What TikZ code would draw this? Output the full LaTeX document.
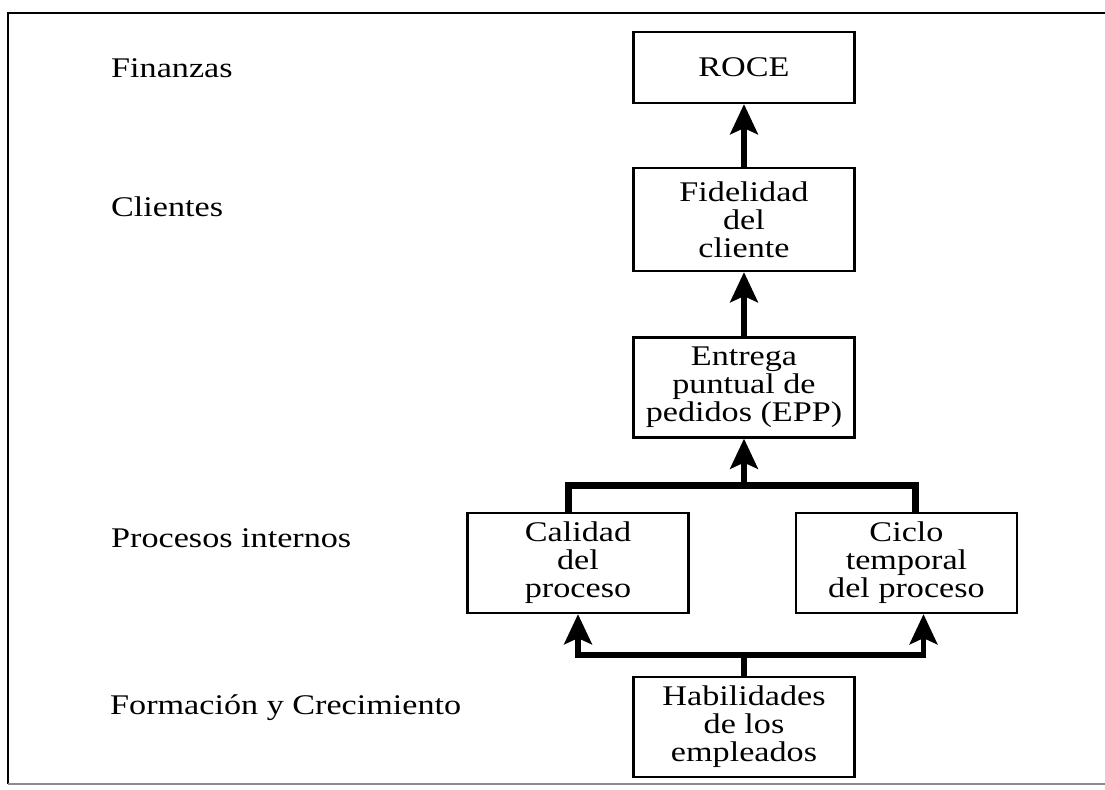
\documentclass[tikz,border=0pt]{standalone}
\usepackage{fontspec}
\setmainfont[FakeStretch=1.2]{Liberation Serif}
\usetikzlibrary{arrows.meta, calc}

\tikzset{
    box/.style={draw, line width=1.3pt, minimum width=4.42cm, minimum height=2cm, align=center},
    flow/.style={line width=3.4pt, -{Stealth[length=0.6cm, width=0.55cm, inset=0.12cm]}},
    bar/.style={line width=3.8pt},
    level/.style={anchor=base west}
}

\begin{document}
\begin{tikzpicture}[font=\fontsize{16.2}{15.9}\selectfont]

        \useasboundingbox (0,0) rectangle (22.1,15.8);

        % FRAME
        \draw[line width=1.6pt] (22.3,15.54) -- (0.16,15.54) -- (0.16,0.12);
        \draw[line width=0.9pt, black!45] (0.16,0.12) -- (22.3,0.12);

        % LEVELS
        \node[level] (finanzas) at (2.1,14.24) {Finanzas};
        \node[level] (clientes) at (2.1,11.46) {Clientes};
        \node[level] (procesos) at (2.1,4.84) {Procesos internos};
        \node[level] (formacion) at (2.08,1.5) {Formación y Crecimiento};

        % BOXES
        \node[box, minimum height=1.42cm] (ROCE) at (14.88,14.45) {ROCE};
        \node[box, minimum height=2.06cm] (FID) at ($(ROCE) + (0, -3.04)$) {Fidelidad\\del\\cliente};
        \node[box] (EPP) at ($(FID) + (0, -3.36)$) {Entrega\\puntual de\\pedidos (EPP)};
        \node[box] (CAL) at ($(EPP) + (-3.32, -3.51)$) {Calidad\\del\\proceso};
        \node[box] (CIC) at ($(EPP) + (3.25, -3.51)$) {Ciclo\\temporal\\del proceso};
        \node[box] (HAB) at ($(EPP) + (0, -6.79)$) {Habilidades\\de los\\empleados};

        % UPPER LINKS
        \draw[flow] (FID) -- (ROCE);
        \draw[flow] (EPP) -- (FID);

        % PROCESOS -> EPP
        \coordinate (top) at ($(EPP.south) + (0, -0.94)$);
        \draw[bar] ([xshift=-0.19cm]CAL.north) |- (top) -| ([xshift=0.18cm]CIC.north);
        \draw[flow] (top) -- (EPP);

        % HAB -> PROCESOS
        \coordinate (bot) at ($(HAB.north) + (0, 0.42)$);
        \draw[bar] (HAB) -- (bot);
        \draw[flow] (bot) -| (CAL);
        \draw[flow] (bot) -| ([xshift=0.34cm]CIC.south);

    \end{tikzpicture}
\end{document}
